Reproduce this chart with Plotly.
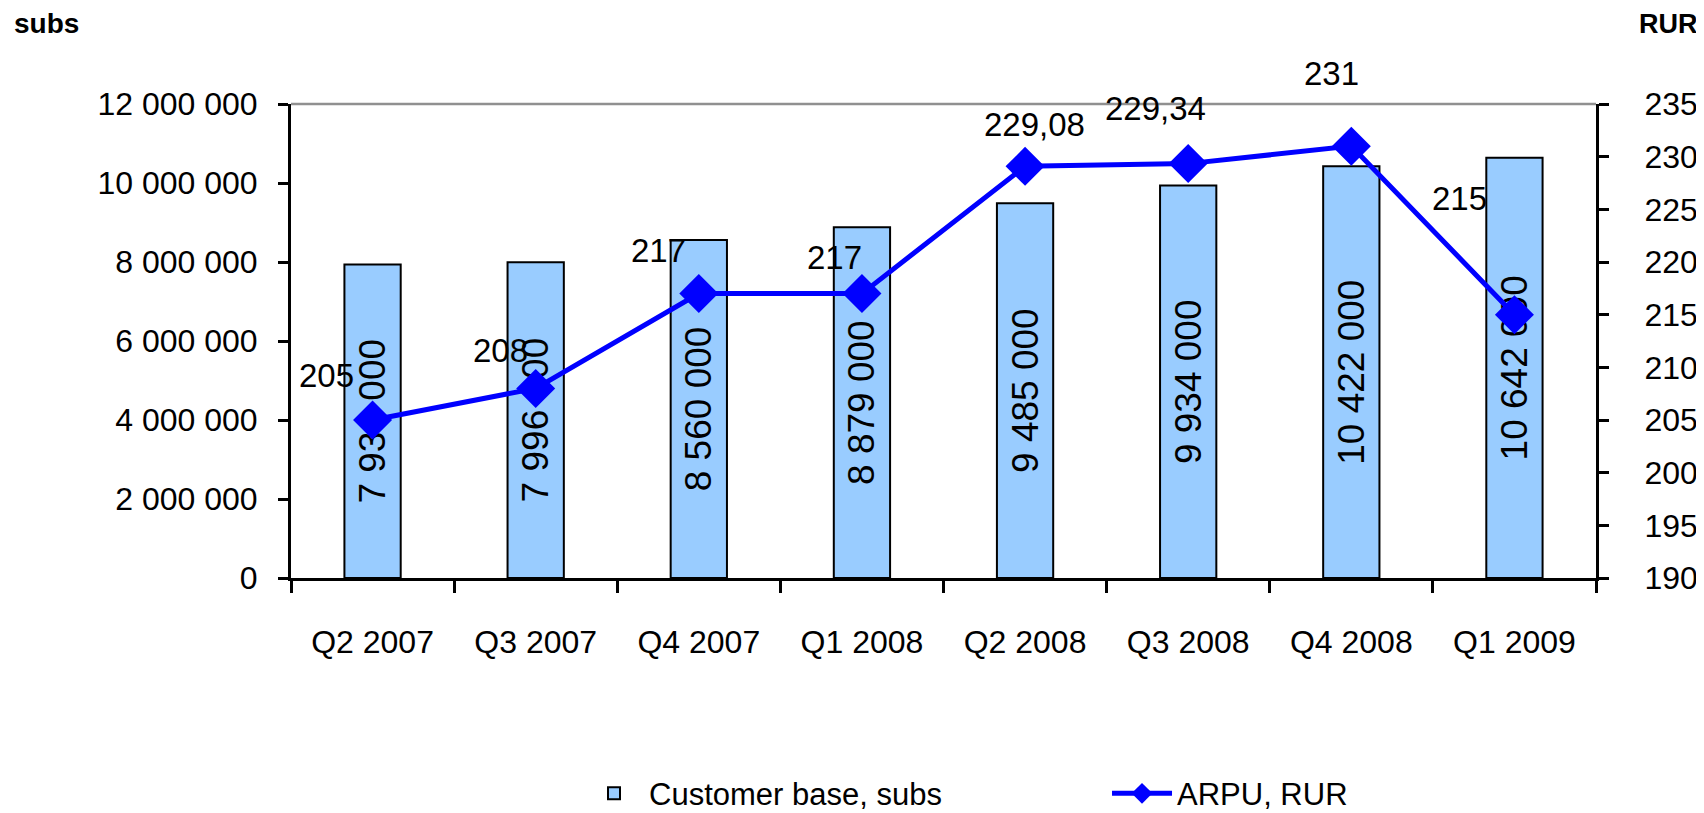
import plotly.graph_objects as go

categories = ["Q2 2007", "Q3 2007", "Q4 2007", "Q1 2008", "Q2 2008", "Q3 2008", "Q4 2008", "Q1 2009"]
customer_base = [7936000, 7996000, 8560000, 8879000, 9485000, 9934000, 10422000, 10642000]
arpu = [205, 208, 217, 217, 229.08, 229.34, 231, 215]
left_ticks = [0, 2000000, 4000000, 6000000, 8000000, 10000000, 12000000]
right_ticks = [190, 195, 200, 205, 210, 215, 220, 225, 230, 235]

# label offsets (pixels) for ARPU data labels, as placed in the original
label_offsets = [(-46, 45), (-35, 38), (-40, 43), (-27, 36), (9, 42), (-33, 55), (-20, 73), (-55, 116)]

FONT = "Liberation Sans, Arial, sans-serif"

fig = go.Figure()
fig.add_trace(go.Bar(
    x=categories, y=customer_base, name="Customer base, subs",
    marker=dict(color="#99CCFF", line=dict(color="black", width=2)),
    texttemplate="%{y:,d}", textposition="inside", textangle=-90,
    insidetextanchor="middle", constraintext="none",
    textfont=dict(size=37, color="black", family=FONT),
    yaxis="y", xaxis="x", legend="legend",
))
fig.add_trace(go.Scatter(
    x=categories, y=arpu, name="ARPU, RUR", mode="lines+markers",
    line=dict(color="#0000FF", width=5),
    marker=dict(symbol="diamond", size=30, color="#0000FF"),
    yaxis="y2", xaxis="x", legend="legend2",
))

def fmt(v):
    s = f"{v:.2f}".rstrip("0").rstrip(".")
    return s.replace(".", ",")

for c, v, (dx, dy) in zip(categories, arpu, label_offsets):
    fig.add_annotation(x=c, y=v, xref="x", yref="y2", text=fmt(v), showarrow=False,
                       xshift=dx, yshift=dy, font=dict(size=33, color="black", family=FONT))

fig.add_annotation(text="<b>subs</b>", xref="paper", yref="paper", x=-0.2138, y=1.169,
                   xanchor="left", yanchor="middle", showarrow=False,
                   font=dict(size=28, color="black", family=FONT))
fig.add_annotation(text="<b>RUR</b>", xref="paper", yref="paper", x=1.0797, y=1.169,
                   xanchor="right", yanchor="middle", showarrow=False,
                   font=dict(size=27, color="black", family=FONT))

# gray top border of plot area
fig.add_shape(type="line", xref="x domain", yref="y domain", x0=0, x1=1, y0=1, y1=1,
              line=dict(color="#909090", width=2.5))

legend_common = dict(orientation="h", xanchor="left", yanchor="middle", y=-0.455,
                     font=dict(size=31, color="black", family=FONT), itemwidth=60,
                     bgcolor="rgba(0,0,0,0)")

fig.update_layout(
    width=1696, height=805,
    margin=dict(l=283, r=108, t=96, b=235, autoexpand=False),
    paper_bgcolor="white", plot_bgcolor="white",
    separators=", ",
    font=dict(family=FONT, size=32, color="black"),
    bargap=0.655,
    showlegend=True,
    legend=dict(x=0.2207, **legend_common),
    legend2=dict(x=0.6253, **legend_common),
    xaxis=dict(type="category", showline=True, linecolor="black", linewidth=3,
               ticks="outside", tickson="boundaries", ticklen=12, tickwidth=2.5, tickcolor="black",
               showgrid=False, ticklabelstandoff=34, tickfont=dict(size=32),
               tickangle=0, range=[-0.5, 7.5]),
    xaxis2=dict(overlaying="x", anchor="y", side="bottom", range=[-0.5, 7.5], tick0=-0.5, dtick=1,
                ticks="inside", ticklen=12, tickwidth=2.5, tickcolor="black",
                showticklabels=False, showgrid=False, showline=False, zeroline=False),
    yaxis=dict(range=[0, 12000000], tickvals=left_ticks, tickformat=",d", showline=True,
               linecolor="black", linewidth=3, ticks="outside", ticklen=10, tickwidth=2.5,
               tickcolor="black", showgrid=False, zeroline=False, ticklabelstandoff=14,
               tickfont=dict(size=32)),
    yaxis2=dict(range=[190, 235], tickvals=right_ticks, overlaying="y", side="right",
                showline=True, linecolor="black", linewidth=3, ticks="outside", ticklen=10,
                tickwidth=2.5, tickcolor="black", showgrid=False, zeroline=False,
                ticklabelstandoff=29, tickfont=dict(size=32)),
    yaxis3=dict(range=[0, 12000000], tickvals=left_ticks, overlaying="y", side="left", anchor="x",
                ticks="inside", ticklen=10, tickwidth=2.5, tickcolor="black",
                showticklabels=False, showgrid=False, showline=False, zeroline=False),
    yaxis4=dict(range=[190, 235], tickvals=right_ticks, overlaying="y", side="right", anchor="x",
                ticks="inside", ticklen=10, tickwidth=2.5, tickcolor="black",
                showticklabels=False, showgrid=False, showline=False, zeroline=False),
)

fig.write_html("out.html")
